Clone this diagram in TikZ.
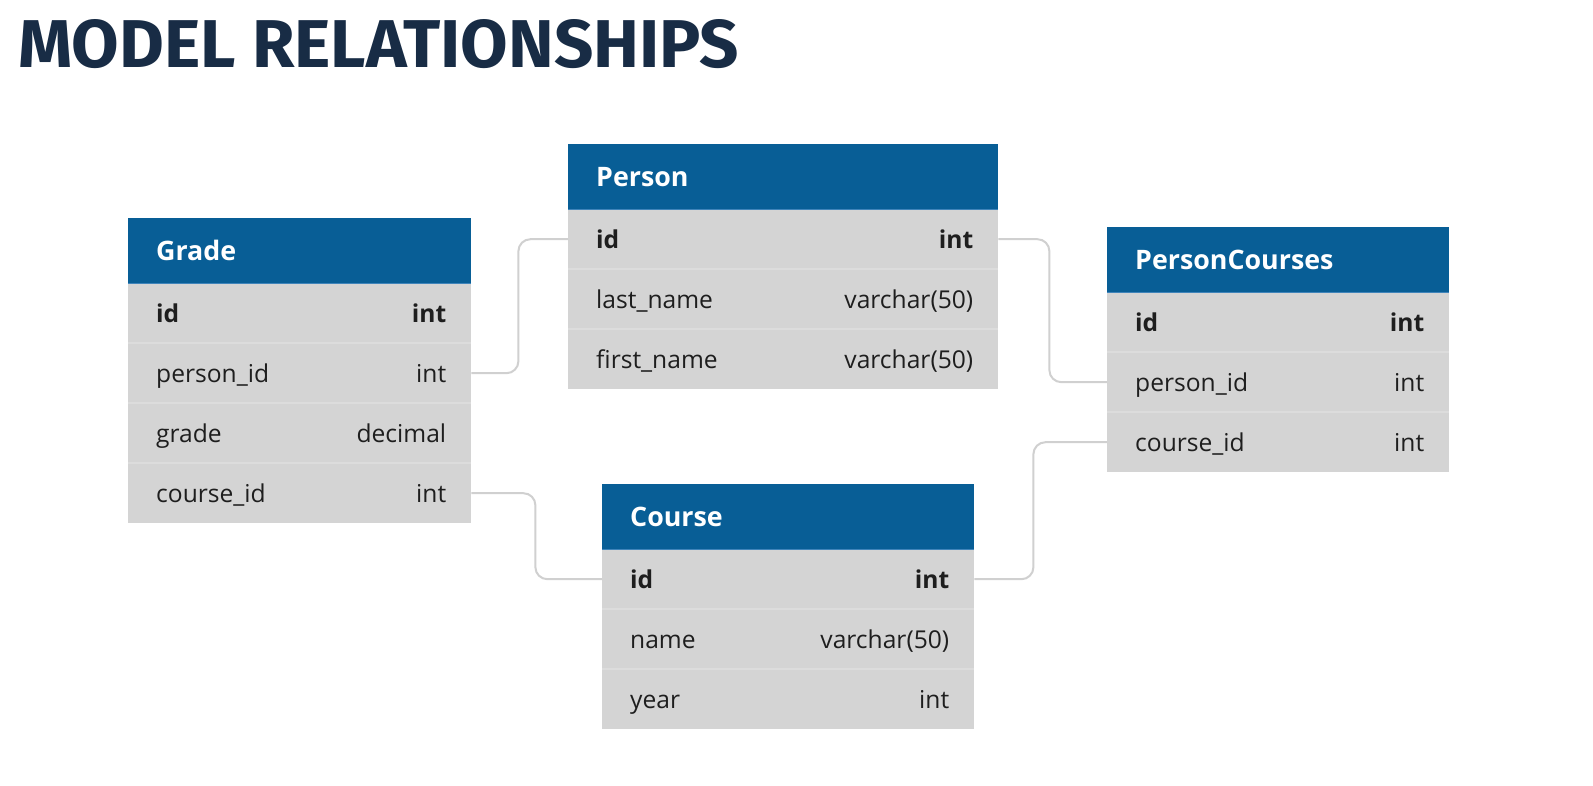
\documentclass[tikz,border=0pt]{standalone}
\usepackage{fontspec}
\setmainfont{Open Sans}
\newfontfamily\titlefont{Fira Sans}
\usepackage{graphicx}
\definecolor{hdblue}{HTML}{085E96}
\definecolor{hdedge}{HTML}{3F84BA}
\definecolor{rowgray}{HTML}{D4D4D4}
\definecolor{divgray}{HTML}{DCDCDC}
\definecolor{txtcol}{HTML}{1E1E1E}
\definecolor{conncol}{HTML}{D0D0D0}
\definecolor{titlecol}{HTML}{182C45}
\tikzset{
  headbox/.style={fill=hdblue, draw=none, minimum height=65pt, inner sep=0pt, anchor=north west},
  rowbox/.style={fill=rowgray, draw=none, minimum height=60pt, inner sep=0pt, anchor=north west},
  fieldtxt/.style={font=\fontsize{24.6}{28}\selectfont, text=txtcol, inner sep=0pt, anchor=base west},
  typetxt/.style={font=\fontsize{24.6}{28}\selectfont, text=txtcol, inner sep=0pt, anchor=base east},
  headtxt/.style={font=\fontsize{26.8}{30}\selectfont\bfseries, text=white, inner sep=0pt, anchor=base west},
  divline/.style={draw=divgray, line width=1.2pt},
  edgeline/.style={draw=hdedge, line width=1.2pt},
  conn/.style={draw=conncol, line width=2pt, rounded corners=12pt}
}
% #1 name, #2 left x, #3 top y, #4 width, #5 title
\newcommand\ehead[5]{%
  \node[headbox, minimum width=#4pt] (#1) at (#2,#3) {};
  \node[headtxt] (#1-t) at ([xshift=28pt,yshift=-10pt]#1.west) {#5};
}
% #1 name, #2 left x, #3 top y, #4 width, #5 field, #6 type
\newcommand\erow[6]{%
  \node[rowbox, minimum width=#4pt] (#1) at (#2,#3) {};
  \draw[divline] (#1.north west) -- (#1.north east);
  \node[fieldtxt] (#1-f) at ([xshift=28pt,yshift=-9.5pt]#1.west) {#5};
  \node[typetxt] (#1-t) at ([xshift=-25pt,yshift=-9.5pt]#1.east) {#6};
}
\begin{document}
\begin{tikzpicture}[x=1pt,y=-1pt]
\useasboundingbox (0,0) rectangle (1593,785);
\fill[white] (0,0) rectangle (1593,785);

\node[inner sep=0pt, anchor=base west, text=titlecol] (title) at (18,67)
  {\resizebox{721pt}{48pt}{\titlefont\bfseries MODEL RELATIONSHIPS}};

% Grade
\erow{grade-id}{128}{283}{343}{\bfseries id}{\bfseries int}
\erow{grade-pid}{128}{343}{343}{person\_id}{int}
\erow{grade-grade}{128}{403}{343}{grade}{decimal}
\erow{grade-cid}{128}{463}{343}{course\_id}{int}
\ehead{grade}{128}{218}{343}{Grade}
\draw[edgeline] (grade.south west) -- (grade.south east);

% Person
\erow{person-id}{568}{209}{430}{\bfseries id}{\bfseries int}
\erow{person-ln}{568}{269}{430}{last\_name}{varchar(50)}
\erow{person-fn}{568}{329}{430}{first\_name}{varchar(50)}
\ehead{person}{568}{144}{430}{Person}
\draw[edgeline] (person.south west) -- (person.south east);

% PersonCourses
\erow{pc-id}{1107}{292}{342}{\bfseries id}{\bfseries int}
\erow{pc-pid}{1107}{352}{342}{person\_id}{int}
\erow{pc-cid}{1107}{412}{342}{course\_id}{int}
\ehead{pc}{1107}{227}{342}{PersonCourses}
\draw[edgeline] (pc.south west) -- (pc.south east);

% Course
\erow{course-id}{602}{549}{372}{\bfseries id}{\bfseries int}
\erow{course-name}{602}{609}{372}{name}{varchar(50)}
\erow{course-year}{602}{669}{372}{year}{int}
\ehead{course}{602}{484}{372}{Course}
\draw[edgeline] (course.south west) -- (course.south east);

% connectors
\draw[conn] (grade-pid.east) -- ++(47,0) |- (person-id.west);
\draw[conn] (grade-cid.east) -- ++(64,0) |- (course-id.west);
\draw[conn] (person-id.east) -- ++(51,0) |- (pc-pid.west);
\draw[conn] (course-id.east) -- ++(59,0) |- (pc-cid.west);
\end{tikzpicture}
\end{document}
